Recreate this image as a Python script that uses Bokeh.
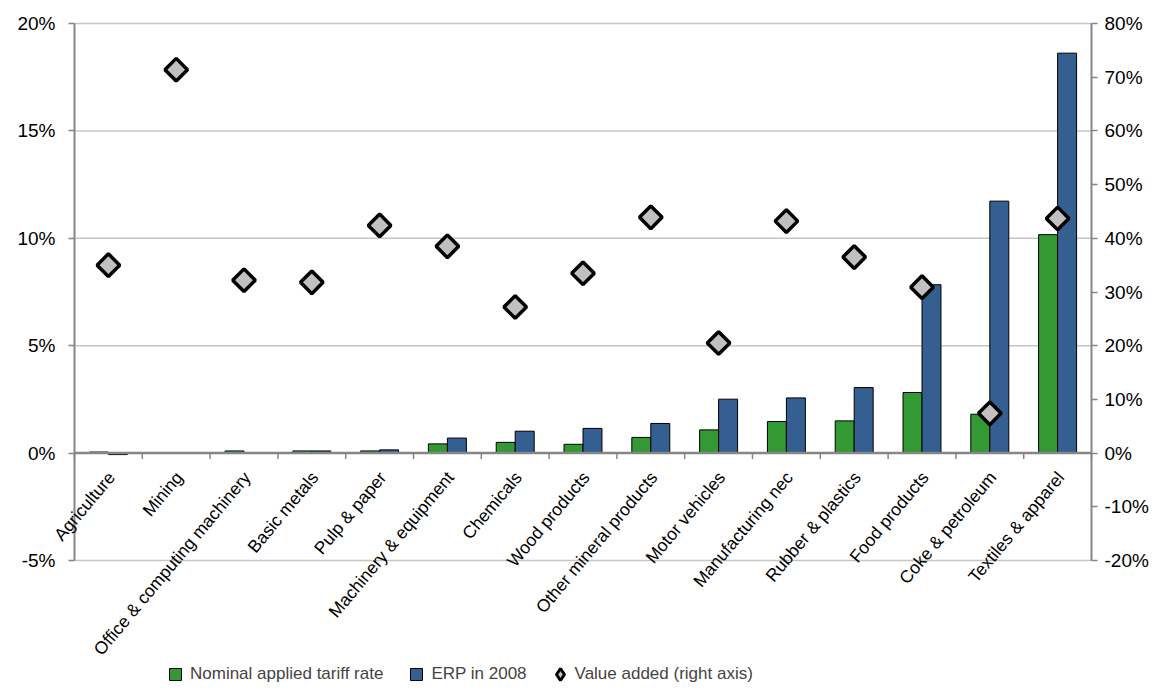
import numpy as np
from math import pi, radians
from bokeh.plotting import figure
from bokeh.models import (ColumnDataSource, Range1d, LinearAxis, FixedTicker,
                          PrintfTickFormatter, Legend, LegendItem, Label)
from bokeh.embed import file_html
from bokeh.resources import INLINE

categories = ["Agriculture", "Mining", "Office & computing machinery", "Basic metals",
              "Pulp & paper", "Machinery & equipment", "Chemicals", "Wood products",
              "Other mineral products", "Motor vehicles", "Manufacturing nec",
              "Rubber & plastics", "Food products", "Coke & petroleum", "Textiles & apparel"]
nominal = [0.05, 0.0, 0.1, 0.1, 0.1, 0.43, 0.5, 0.41, 0.73, 1.08, 1.47, 1.5, 2.82, 1.81, 10.17]
erp = [-0.07, 0.0, 0.0, 0.1, 0.15, 0.7, 1.02, 1.15, 1.38, 2.51, 2.57, 3.05, 7.84, 11.73, 18.62]
value_added = [35.0, 71.4, 32.2, 31.8, 42.4, 38.5, 27.2, 33.5, 43.9, 20.5, 43.2, 36.5, 30.9, 7.4, 43.7]
left_ticks = [-5, 0, 5, 10, 15, 20]
right_ticks = [-20, -10, 0, 10, 20, 30, 40, 50, 60, 70, 80]
series_names = ["Nominal applied tariff rate", "ERP in 2008", "Value added (right axis)"]

GREEN = "#339933"
BLUE = "#355E91"
AXIS = "#868686"
GRID = "#c6c6c6"
FONT = "Liberation Sans"

n = len(categories)
idx = np.arange(n)
bw = 0.28
src = ColumnDataSource(dict(
    x=idx, cat=categories, nominal=nominal, erp=erp, va=value_added,
    xg=idx - bw / 2, xb=idx + bw / 2,
))

# layout (pixels): the frame covers the whole canvas; the chart area runs from
# x=74 to x=1091 and from y=23 (top tick) to y=560 (bottom tick)
W, H = 1149, 682
AX_L, AX_R, AX_T, AX_B = 74, 1091, 23, 560
ppu = (AX_R - AX_L) / n
lmin, lmax = left_ticks[0], left_ticks[-1]
rmin, rmax = right_ticks[0], right_ticks[-1]
lppu = (AX_B - AX_T) / (lmax - lmin)
rppu = (AX_B - AX_T) / (rmax - rmin)

p = figure(width=W, height=H, output_backend="svg", toolbar_location=None,
           x_range=Range1d(-0.5 - AX_L / ppu, n - 0.5 + (W - AX_R) / ppu),
           y_range=Range1d(lmax - (H - AX_T) / lppu, lmax + AX_T / lppu),
           x_axis_location=None,
           min_border_left=0, min_border_right=0, min_border_top=0, min_border_bottom=0)
p.outline_line_color = None
p.xgrid.visible = False
p.ygrid.visible = False

p.extra_y_ranges = {"va": Range1d(rmax - (H - AX_T) / rppu, rmax + AX_T / rppu)}

def style_axis(ax, standoff):
    ax.axis_line_color = AXIS
    ax.axis_line_width = 2
    ax.major_tick_line_color = AXIS
    ax.major_tick_line_width = 1.5
    ax.major_tick_out = 6
    ax.major_tick_in = 0
    ax.minor_tick_line_color = None
    ax.major_label_text_font = FONT
    ax.major_label_text_font_size = "19px"
    ax.major_label_text_color = "black"
    ax.major_label_standoff = standoff
    ax.formatter = PrintfTickFormatter(format="%d%%")

# horizontal gridlines (limited to the chart area)
grid_vals = [t for t in left_ticks if t != 0]
p.segment(x0=[-0.5] * len(grid_vals), x1=[n - 0.5] * len(grid_vals),
          y0=grid_vals, y1=grid_vals, line_color=GRID, line_width=1.5)

yl = p.yaxis[0]
yl.ticker = FixedTicker(ticks=left_ticks)
yl.bounds = (lmin, lmax)
yl.fixed_location = -0.5
style_axis(yl, 13)

yr = LinearAxis(y_range_name="va", ticker=FixedTicker(ticks=right_ticks), bounds=(rmin, rmax),
                fixed_location=n - 0.5)
style_axis(yr, 7)
p.add_layout(yr, "right")

r_nom = p.vbar(x="xg", top="nominal", bottom=0, width=bw, source=src,
               fill_color=GREEN, line_color="black", line_width=1)
r_erp = p.vbar(x="xb", top="erp", bottom=0, width=bw, source=src,
               fill_color=BLUE, line_color="black", line_width=1)

# zero axis line and category ticks
bounds_x = np.arange(n + 1) - 0.5
p.segment(x0=[-0.5], x1=[n - 0.5], y0=[0], y1=[0], line_color=AXIS, line_width=2.5)
p.segment(x0=bounds_x, x1=bounds_x, y0=[0] * len(bounds_x), y1=[-0.28] * len(bounds_x),
          line_color=AXIS, line_width=1.5)

r_va = p.scatter(x="x", y="va", y_range_name="va", source=src, marker="square",
                 angle=pi / 4, size=16, fill_color="#C0C0C0", line_color="black",
                 line_width=3.5)

# category labels
for i, name in enumerate(categories):
    p.add_layout(Label(x=int(idx[i]), y=0, text=name, angle=radians(50),
                       text_align="right", text_baseline="middle", x_offset=3, y_offset=-21,
                       text_font=FONT, text_font_size="17.5px", text_color="black"))

# legend-only glyphs (NaN data, drawn only in the legend)
dummy = ColumnDataSource(dict(x=[np.nan], y=[np.nan]))
lg_nom = p.scatter(x="x", y="y", source=dummy, marker="square", fill_color=GREEN,
                   line_color="black", line_width=1)
lg_erp = p.scatter(x="x", y="y", source=dummy, marker="square", fill_color=BLUE,
                   line_color="black", line_width=1)
lg_va = p.scatter(x="x", y="y", source=dummy, marker="diamond", fill_color="#C0C0C0",
                  line_color="black", line_width=3)

legend = Legend(items=[LegendItem(label=series_names[0], renderers=[lg_nom]),
                       LegendItem(label=series_names[1], renderers=[lg_erp]),
                       LegendItem(label=series_names[2], renderers=[lg_va])],
                orientation="horizontal", location=(160, -7),
                glyph_width=30, glyph_height=30, label_standoff=0, spacing=18,
                padding=0, margin=0, label_height=30,
                label_text_font=FONT, label_text_font_size="17px",
                border_line_color=None, background_fill_alpha=0)
p.add_layout(legend)

open("out.html", "w").write(file_html(p, INLINE))
